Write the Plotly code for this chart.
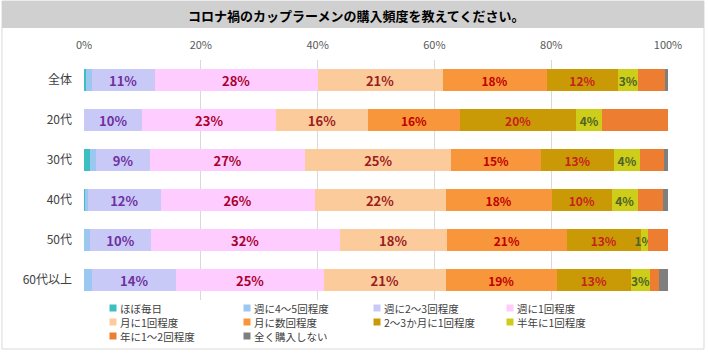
import plotly.graph_objects as go

categories = ["全体", "20代", "30代", "40代", "50代", "60代以上"]
series_names = ["ほぼ毎日", "週に4～5回程度", "週に2～3回程度", "週に1回程度",
                "月に1回程度", "月に数回程度", "2～3か月に1回程度", "半年に1回程度",
                "年に1～2回程度", "全く購入しない"]
# values per series (in order of categories)
v_daily    = [0.3, 0.0, 1.1, 0.2, 0.0, 0.0]
v_w45      = [1.0, 0.0, 1.0, 0.5, 1.1, 1.4]
v_w23      = [10.8, 10.0, 9.2, 12.4, 10.3, 14.4]
v_w1       = [27.9, 22.9, 26.6, 26.4, 32.4, 25.3]
v_m1       = [21.4, 15.7, 25.0, 22.4, 18.3, 20.8]
v_mfew     = [17.8, 15.8, 15.3, 18.2, 20.6, 19.1]
v_m23      = [12.3, 19.9, 12.6, 10.3, 12.6, 12.6]
v_half     = [3.4, 4.4, 4.4, 4.4, 1.2, 3.4]
v_year     = [4.5, 11.3, 4.1, 4.3, 3.5, 1.4]
v_never    = [0.6, 0.0, 0.7, 0.9, 0.0, 1.6]
tick_vals = [0, 20, 40, 60, 80, 100]
tick_text = ["0%", "20%", "40%", "60%", "80%", "100%"]
title_text = "コロナ禍のカップラーメンの購入頻度を教えてください。"

values = [v_daily, v_w45, v_w23, v_w1, v_m1, v_mfew, v_m23, v_half, v_year, v_never]
colors = ["#3DBFBF", "#9CC7F0", "#C9C9F7", "#FFCCFF", "#FCCB9C", "#F7963A",
          "#C99A06", "#CDCD1A", "#ED7D31", "#7F7F7F"]
label_colors = [None, None, "#7030A0", "#A8002E", "#9A2020", "#C00000",
                "#C8201E", "#4F6228", None, None]
label_sizes = [0, 0, 13, 13, 13, 12, 12, 12, 0, 0]

CJK = "Noto Sans CJK JP"
fig = go.Figure()
for i, (name, vals) in enumerate(zip(series_names, values)):
    kw = {}
    if label_colors[i]:
        kw = dict(texttemplate="%{x:.0f}%", textposition="inside",
                  insidetextanchor="middle", textangle=0, constraintext="none",
                  insidetextfont=dict(family=CJK, size=label_sizes[i],
                                      color=label_colors[i], weight="bold"))
    fig.add_trace(go.Bar(y=categories, x=vals, name=name, orientation="h",
                         marker=dict(color=colors[i], line=dict(width=0)),
                         hoverinfo="skip", **kw))

W_FIG, H_FIG = 709, 357
L, R, T, B = 84, 41, 60, 57
PW, PH = W_FIG - L - R, H_FIG - T - B

def px_x(px):
    return (px - L) / PW

def px_y(py):
    return (T + PH - py) / PH

shapes = []
annotations = []
# frame and title bar
shapes.append(dict(type="rect", xref="paper", yref="paper",
                   x0=px_x(2), x1=px_x(704), y0=px_y(349), y1=px_y(1),
                   line=dict(color="#D9D9D9", width=1), fillcolor="rgba(0,0,0,0)", layer="below"))
shapes.append(dict(type="rect", xref="paper", yref="paper",
                   x0=px_x(2), x1=px_x(704), y0=px_y(28), y1=px_y(1),
                   line=dict(width=0), fillcolor="#D0D0D0", layer="below"))
annotations.append(dict(text="<b>" + title_text + "</b>", xref="paper", yref="paper",
                        x=px_x(356), y=px_y(15), showarrow=False,
                        xanchor="center", yanchor="middle",
                        font=dict(family=CJK, size=13, color="#000000")))

# manual legend
col_x = [113, 247, 377, 510]
row_y = [308, 322, 336]
for i, name in enumerate(series_names):
    cx = col_x[i % 4]
    cy = row_y[i // 4]
    shapes.append(dict(type="rect", xref="paper", yref="paper",
                       x0=px_x(cx - 3.5), x1=px_x(cx + 3.5),
                       y0=px_y(cy + 3.5), y1=px_y(cy - 3.5),
                       line=dict(width=0), fillcolor=colors[i]))
    annotations.append(dict(text=name, xref="paper", yref="paper",
                            x=px_x(cx + 5), y=px_y(cy), showarrow=False,
                            xanchor="left", yanchor="middle", height=13,
                            font=dict(family=CJK, size=10.5, color="#404040")))

fig.update_layout(
    width=W_FIG, height=H_FIG,
    margin=dict(l=L, r=R, t=T, b=B, pad=0, autoexpand=False),
    barmode="stack", bargap=0.45,
    showlegend=False,
    plot_bgcolor="white", paper_bgcolor="white",
    shapes=shapes, annotations=annotations,
    xaxis=dict(side="top", range=[0, 100], tickvals=tick_vals, ticktext=tick_text,
               showgrid=True, gridcolor="#D9D9D9", gridwidth=1, zeroline=False,
               showline=False, ticks="", ticklabelstandoff=8, automargin=False,
               tickfont=dict(family=CJK, size=11, color="#595959")),
    yaxis=dict(autorange="reversed", showgrid=False, zeroline=False, showline=False,
               ticks="", ticklabelstandoff=11, automargin=False,
               tickfont=dict(family=CJK, size=12, color="#404040")),
)

fig.write_html("out.html", config={"displayModeBar": False},
               post_script="document.body.style.margin='0';document.body.style.padding='0';")
